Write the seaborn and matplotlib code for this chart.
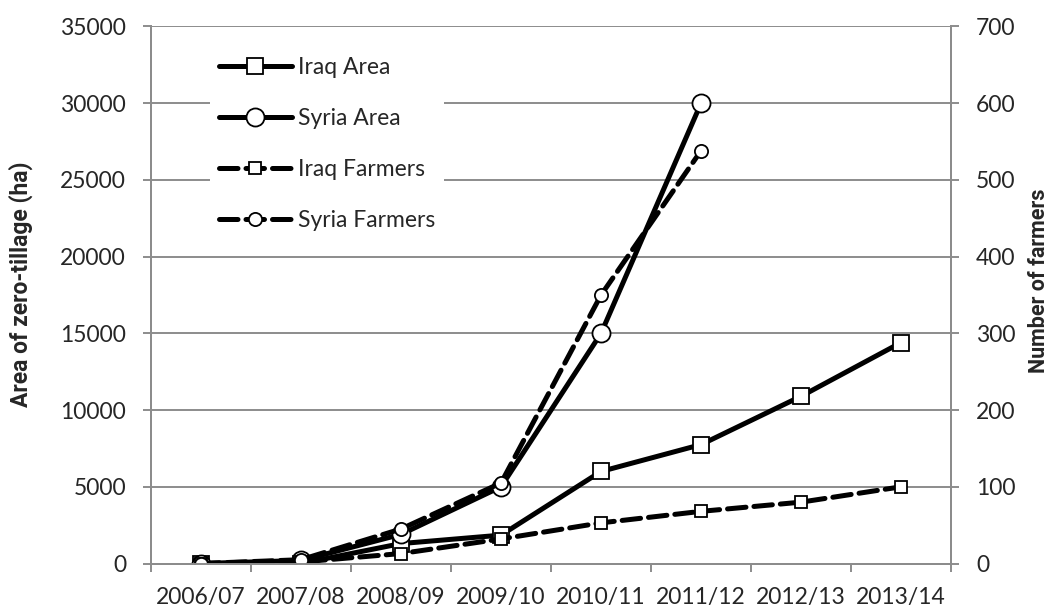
import numpy as np
import pandas as pd
import matplotlib
matplotlib.use('Agg')
import matplotlib.pyplot as plt
import seaborn as sns

# data
seasons = ['2006/07', '2007/08', '2008/09', '2009/10', '2010/11', '2011/12', '2012/13', '2013/14']
iraq_area = [0, 0, 1300, 1850, 6000, 7750, 10900, 14400]
syria_area = [0, 200, 1900, 5000, 15000, 30000]
iraq_farmers = [0, 2, 13, 32, 53, 68, 80, 100]
syria_farmers = [0, 5, 45, 105, 350, 538]

left_ticks = [0, 5000, 10000, 15000, 20000, 25000, 30000, 35000]
right_ticks = [0, 100, 200, 300, 400, 500, 600, 700]

sns.set_theme(style='white')
plt.rcParams['font.family'] = ['Lato', 'DejaVu Sans']

GRID = '#8c8c8c'
FS = 16.5

fig = plt.figure(figsize=(10.51, 6.10), dpi=100)
ax = fig.add_axes([0.1437, 0.0762, 0.7612, 0.8804])
ax2 = ax.twinx()

pos = np.arange(len(seasons))


def draw(axis, vals, marker, msize, ls, label):
    df = pd.DataFrame({'x': pos[:len(vals)], 'y': vals})
    sns.lineplot(data=df, x='x', y='y', ax=axis, color='black', linewidth=3.6,
                 linestyle=ls, marker=marker, markersize=msize,
                 markerfacecolor='white', markeredgecolor='black',
                 markeredgewidth=1.3, label=label, legend=False,
                 dash_capstyle='round')


draw(ax, iraq_area, 's', 12, '-', 'Iraq Area')
draw(ax, syria_area, 'o', 13, '-', 'Syria Area')
draw(ax2, iraq_farmers, 's', 8.5, '--', 'Iraq Farmers')
draw(ax2, syria_farmers, 'o', 9.5, '--', 'Syria Farmers')

ax.set_xlim(-0.5, len(seasons) - 0.5)
ax.set_ylim(0, 35000)
ax2.set_ylim(0, 700)
ax.set_yticks(left_ticks)
ax2.set_yticks(right_ticks)
ax.set_xticks(pos)
ax.set_xticklabels(seasons)
ax.set_xticks(np.arange(len(seasons) + 1) - 0.5, minor=True)

ax.grid(axis='y', color=GRID, linewidth=1.4)
ax.set_axisbelow(True)

for a in (ax, ax2):
    a.spines['top'].set_visible(False)
    for side in ('left', 'right', 'bottom'):
        a.spines[side].set_color(GRID)
        a.spines[side].set_linewidth(1.4)

ax.tick_params(axis='y', which='major', direction='out', length=6, width=1.4,
               color=GRID, pad=12, labelsize=FS, left=True)
ax2.tick_params(axis='y', which='major', direction='out', length=6, width=1.4,
                color=GRID, pad=12, labelsize=FS, right=True)
ax.tick_params(axis='x', which='major', length=0, pad=17, labelsize=FS)
ax.tick_params(axis='x', which='minor', direction='out', length=6, width=1.4,
               color=GRID, bottom=True)

ax.set_xlabel('')
ax.set_ylabel('Area of zero-tillage (ha)', fontsize=16.5, fontweight='bold',
              family=['Roboto', 'DejaVu Sans'])
ax2.set_ylabel('Number of farmers', fontsize=15.5, fontweight='bold',
               family=['Roboto', 'DejaVu Sans'])
ax.yaxis.set_label_coords(-0.1475, 0.52)
ax2.yaxis.set_label_coords(1.096, 0.526)

h1, l1 = ax.get_legend_handles_labels()
h2, l2 = ax2.get_legend_handles_labels()
leg = ax2.legend(h1 + h2, l1 + l2, loc='upper left', bbox_to_anchor=(0.074, 0.96),
                 frameon=True, facecolor='white', edgecolor='none', framealpha=1,
                 fontsize=FS, handlelength=3.15, labelspacing=1.31, borderaxespad=0,
                 handletextpad=0.26, fancybox=False)

fig.savefig('out.png', dpi=100)
